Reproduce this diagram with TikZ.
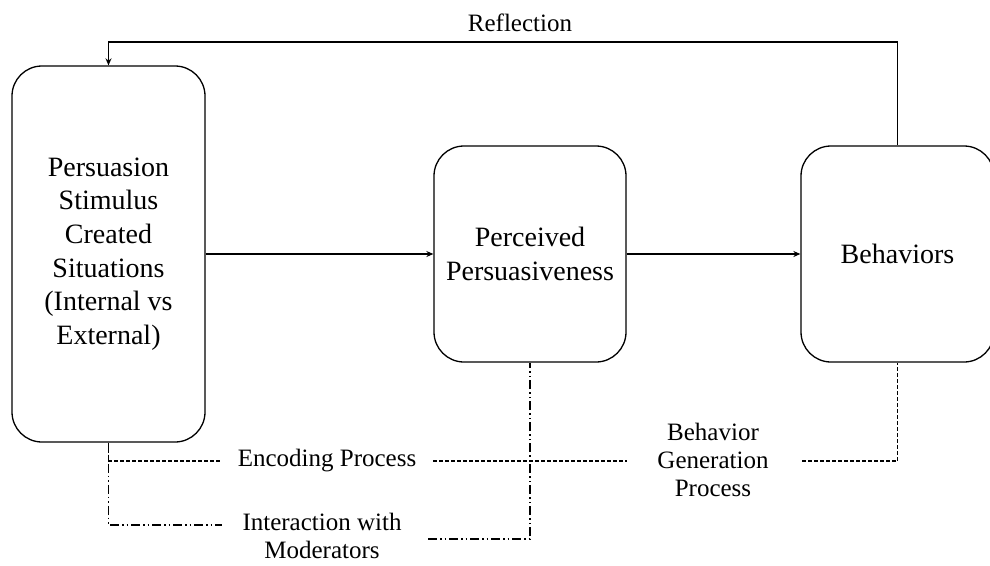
\documentclass[tikz,border=0pt]{standalone}
\usepackage{fontspec}
\setmainfont{Liberation Serif}
\usetikzlibrary{arrows.meta}

\tikzset{
  stage/.style={draw, line width=1.3pt, rounded corners=30pt, inner sep=0pt,
    align=center, font=\fontsize{28}{33.6}\selectfont},
  tag/.style={inner sep=0pt, align=center, font=\fontsize{25}{28}\selectfont},
  flow/.style={line width=1.3pt, -{Stealth[length=7pt,width=6pt]}},
  encoding/.style={line width=1.1pt, dash pattern=on 4pt off 2pt},
  moderation/.style={line width=1.1pt, dash pattern=on 9pt off 3pt on 1.5pt off 3pt on 1.5pt off 3pt}
}

\begin{document}
\begin{tikzpicture}[x=1pt, y=-1pt]
  \useasboundingbox (0,0) rectangle (990,565);

  % three stages
  \node[stage, minimum width=193pt, minimum height=376pt] (stim) at (108.5,254)
    {Persuasion\\Stimulus\\Created\\Situations\\(Internal vs\\External)};
  \node[stage, minimum width=192pt, minimum height=216pt] (perc) at (530,254)
    {Perceived\\Persuasiveness};
  \node[stage, minimum width=193pt, minimum height=216pt] (behv) at (897.5,254)
    {Behaviors};

  % main flow
  \draw[flow] (stim.east) -- (perc.west);
  \draw[flow] (perc.east) -- (behv.west);

  % feedback loop
  \node[tag] (refl) at (520,23) {Reflection};
  \coordinate (rr) at (897.5,42);
  \coordinate (rl) at (108.5,42);
  \draw[flow] (behv.north) -- (rr) -- (rl) -- (stim.north);

  % process labels
  \node[tag] (enc) at (327,461) {Encoding Process};
  \node[tag] (gen) at (713,460) {Behavior\\Generation\\Process};
  \node[tag] (inter) at (322,536) {Interaction with\\Moderators};

  % encoding / behavior generation brackets
  \coordinate (e1) at (108.5,461);
  \coordinate (e2) at (222,461);
  \coordinate (e3) at (433,461);
  \coordinate (e4) at (627,461);
  \coordinate (e5) at (802,461);
  \coordinate (e6) at (897.5,461);
  \draw[encoding] (stim.south) -- (e1) -- (e2);
  \draw[encoding] (e3) -- (e4);
  \draw[encoding] (e5) -- (e6) -- (behv.south);

  % moderator bracket
  \coordinate (m1) at (108.5,525);
  \coordinate (m2) at (222,525);
  \coordinate (m3) at (428,539);
  \coordinate (m4) at (530,539);
  \draw[moderation] (stim.south) -- (m1) -- (m2);
  \draw[moderation] (m3) -- (m4) -- (perc.south);
\end{tikzpicture}
\end{document}
